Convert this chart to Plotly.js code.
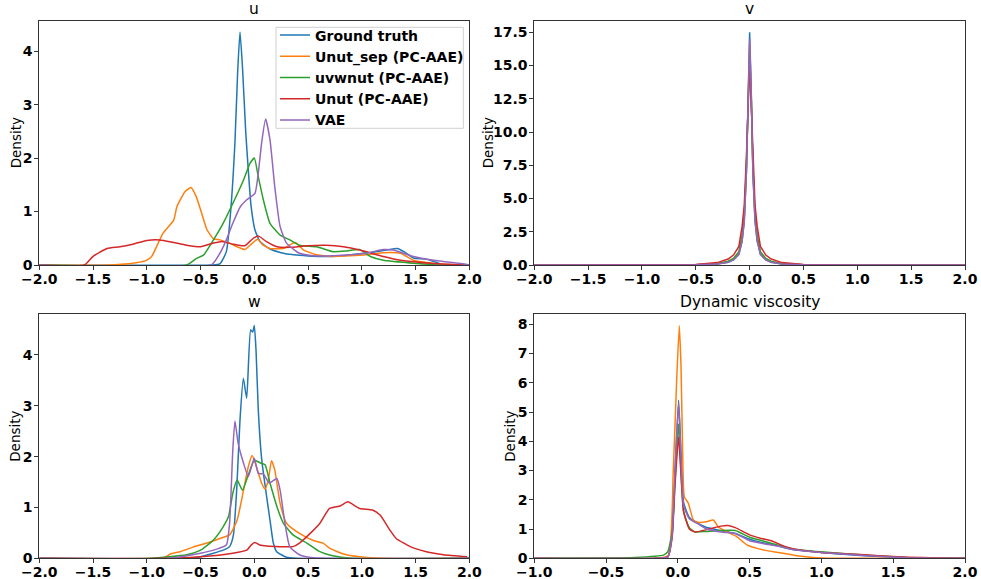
<!DOCTYPE html>
<html><head><meta charset="utf-8">
<script src="https://cdn.plot.ly/plotly-3.0.1.min.js"></script>
<style>body{margin:0;padding:0;background:#fff}#chart{width:981px;height:579px}</style>
</head><body><div id="chart"></div>
<script>
const seriesNames = ["Ground truth", "Unut_sep (PC-AAE)", "uvwnut (PC-AAE)", "Unut (PC-AAE)", "VAE"];
const colors = ["#1f77b4", "#ff7f0e", "#2ca02c", "#d62728", "#9467bd"];
const panelTitles = ["u", "v", "w", "Dynamic viscosity"];

// ---- u ----
const u_gt_x = [-2, -0.4, -0.32, -0.26, -0.22, -0.18, -0.155, -0.133, -0.11, -0.08, -0.056, -0.03, 0.007, 0.053, 0.1, 0.146, 0.25, 0.366, 0.5, 0.67, 0.85, 0.98, 1.1, 1.2, 1.29, 1.33, 1.4, 1.48, 1.6, 1.69, 1.76, 2];
const u_gt_y = [0, 0, 0.02, 0.25, 1.0, 2.3, 3.6, 4.36, 3.7, 2.5, 1.78, 1.1, 0.65, 0.44, 0.36, 0.3, 0.23, 0.19, 0.17, 0.16, 0.18, 0.21, 0.24, 0.27, 0.3, 0.31, 0.24, 0.13, 0.11, 0.05, 0, 0];
const u_us_x = [-2, -1.34, -1.1, -1.0, -0.955, -0.91, -0.85, -0.75, -0.72, -0.645, -0.59, -0.54, -0.49, -0.44, -0.38, -0.32, -0.23, -0.16, -0.087, -0.04, 0.03, 0.084, 0.146, 0.27, 0.38, 0.46, 0.58, 0.73, 1.04, 1.2, 1.36, 1.48, 1.67, 1.91, 2];
const u_us_y = [0, 0, 0.04, 0.09, 0.16, 0.34, 0.59, 0.84, 1.09, 1.37, 1.45, 1.28, 0.97, 0.66, 0.49, 0.47, 0.41, 0.34, 0.29, 0.37, 0.48, 0.37, 0.31, 0.31, 0.42, 0.28, 0.19, 0.16, 0.19, 0.23, 0.22, 0.09, 0.03, 0, 0];
const u_uv_x = [-2, -0.63, -0.54, -0.47, -0.38, -0.29, -0.2, -0.1, -0.04, 0, 0.037, 0.084, 0.146, 0.24, 0.33, 0.42, 0.58, 0.73, 0.85, 0.98, 1.08, 1.2, 1.51, 1.73, 2];
const u_uv_y = [0, 0, 0.12, 0.19, 0.47, 0.78, 1.15, 1.59, 1.9, 2.0, 1.65, 1.22, 0.78, 0.56, 0.47, 0.37, 0.34, 0.25, 0.26, 0.29, 0.16, 0.09, 0.03, 0, 0];
const u_un_x = [-2, -1.58, -1.5, -1.37, -1.25, -1.13, -1.0, -0.88, -0.75, -0.63, -0.5, -0.38, -0.3, -0.2, -0.087, -0.01, 0.04, 0.11, 0.21, 0.33, 0.49, 0.67, 0.83, 0.98, 1.2, 1.36, 1.67, 1.98];
const u_un_y = [0, 0, 0.16, 0.31, 0.34, 0.39, 0.46, 0.47, 0.42, 0.37, 0.34, 0.41, 0.44, 0.39, 0.36, 0.5, 0.54, 0.44, 0.34, 0.33, 0.36, 0.37, 0.34, 0.28, 0.16, 0.09, 0.03, 0];
const u_va_x = [-2, -0.4, -0.32, -0.26, -0.2, -0.13, -0.07, 0.006, 0.037, 0.068, 0.105, 0.146, 0.19, 0.24, 0.3, 0.42, 0.58, 0.89, 1.04, 1.2, 1.29, 1.48, 1.67, 1.98, 2];
const u_va_y = [0, 0, 0.22, 0.47, 0.78, 1.09, 1.22, 1.34, 1.72, 2.28, 2.73, 2.34, 1.47, 0.72, 0.41, 0.22, 0.17, 0.19, 0.22, 0.29, 0.28, 0.16, 0.09, 0.01, 0];

// ---- v ----
const v_x = [-2, -1, -0.5, -0.3, -0.2, -0.15, -0.1, -0.07, -0.05, -0.03, -0.015, 0, 0.015, 0.03, 0.05, 0.07, 0.1, 0.15, 0.2, 0.3, 0.5, 1, 2];
const v_gt_y = [0, 0, 0.01, 0.07, 0.2, 0.38, 0.8, 1.8, 3.3, 7.0, 13.0, 17.5, 13.0, 7.0, 3.3, 1.8, 0.8, 0.38, 0.2, 0.07, 0.01, 0, 0];
const v_us_y = [0, 0, 0.01, 0.09, 0.24, 0.45, 0.9, 2.0, 3.6, 7.3, 12.6, 16.6, 12.6, 7.3, 3.6, 2.0, 0.9, 0.45, 0.24, 0.09, 0.01, 0, 0];
const v_uv_y = [0, 0, 0.02, 0.1, 0.28, 0.5, 1.0, 2.2, 3.8, 7.5, 12.5, 16.0, 12.5, 7.5, 3.8, 2.2, 1.0, 0.5, 0.28, 0.1, 0.02, 0, 0];
const v_un_y = [0, 0, 0.03, 0.18, 0.45, 0.75, 1.4, 2.9, 4.5, 8.2, 12.0, 15.2, 12.0, 8.2, 4.5, 2.9, 1.4, 0.75, 0.45, 0.18, 0.03, 0, 0];
const v_va_y = [0, 0, 0.01, 0.07, 0.2, 0.38, 0.8, 1.8, 3.3, 7.0, 12.8, 17.0, 12.8, 7.0, 3.3, 1.8, 0.8, 0.38, 0.2, 0.07, 0.01, 0, 0];

// ---- w ----
const w_gt_x = [-2, -0.6, -0.5, -0.38, -0.29, -0.23, -0.195, -0.164, -0.133, -0.102, -0.071, -0.034, -0.015, 0, 0.016, 0.037, 0.069, 0.115, 0.146, 0.177, 0.208, 0.3, 0.4, 2];
const w_gt_y = [0, 0, 0.03, 0.1, 0.16, 0.23, 0.45, 1.34, 2.72, 3.54, 3.15, 4.49, 4.45, 4.58, 4.1, 2.92, 1.94, 1.21, 0.75, 0.3, 0.13, 0.02, 0, 0];
const w_us_x = [-2, -0.85, -0.78, -0.69, -0.57, -0.44, -0.32, -0.23, -0.16, -0.1, -0.056, -0.02, 0.02, 0.068, 0.1, 0.13, 0.16, 0.19, 0.24, 0.3, 0.42, 0.55, 0.64, 0.7, 0.83, 0.98, 1.2, 2];
const w_us_y = [0, 0, 0.085, 0.13, 0.22, 0.3, 0.39, 0.46, 0.75, 1.34, 1.8, 2.02, 1.8, 1.48, 1.36, 1.54, 1.92, 1.74, 1.08, 0.69, 0.49, 0.35, 0.3, 0.2, 0.085, 0.03, 0, 0];
const w_uv_x = [-2, -0.97, -0.63, -0.5, -0.38, -0.29, -0.24, -0.2, -0.16, -0.11, -0.056, 0, 0.053, 0.1, 0.146, 0.21, 0.27, 0.36, 0.49, 0.61, 0.73, 0.9, 2];
const w_uv_y = [0, 0, 0.07, 0.16, 0.36, 0.62, 0.82, 1.28, 1.54, 1.34, 1.64, 1.93, 1.88, 1.84, 1.48, 1.02, 0.69, 0.46, 0.3, 0.13, 0.05, 0, 0];
const w_un_x = [-2, -0.82, -0.5, -0.2, -0.07, -0.03, 0.006, 0.05, 0.115, 0.36, 0.42, 0.52, 0.61, 0.7, 0.8, 0.87, 0.98, 1.1, 1.17, 1.26, 1.32, 1.45, 1.6, 1.76, 1.98];
const w_un_y = [0, 0, 0.03, 0.1, 0.16, 0.26, 0.31, 0.26, 0.24, 0.23, 0.3, 0.49, 0.69, 0.98, 1.03, 1.11, 0.98, 0.95, 0.85, 0.56, 0.39, 0.23, 0.13, 0.07, 0.03];
const w_va_x = [-2, -0.8, -0.5, -0.35, -0.26, -0.23, -0.2, -0.18, -0.15, -0.1, -0.056, 0, 0.037, 0.084, 0.14, 0.21, 0.24, 0.285, 0.33, 0.42, 0.55, 2];
const w_va_y = [0, 0, 0.1, 0.18, 0.26, 0.69, 2.13, 2.7, 2.26, 1.87, 1.61, 1.97, 1.67, 1.66, 1.48, 1.57, 1.34, 0.69, 0.23, 0.07, 0.01, 0];

// ---- Dynamic viscosity ----
const d_gt_x = [-1, -0.15, -0.07, -0.04, -0.02, 0.005, 0.02, 0.04, 0.08, 0.12, 0.2, 0.3, 0.4, 0.5, 0.6, 0.7, 0.8, 1.0, 1.2, 1.4, 1.6, 1.8, 2];
const d_gt_y = [0, 0, 0.05, 0.8, 3.0, 5.4, 3.8, 1.9, 1.4, 1.25, 1.05, 0.95, 0.85, 0.65, 0.52, 0.42, 0.3, 0.2, 0.12, 0.06, 0.02, 0, 0];
const d_us_x = [-1, -0.15, -0.067, -0.032, -0.009, 0.01, 0.022, 0.033, 0.045, 0.073, 0.108, 0.14, 0.2, 0.247, 0.28, 0.34, 0.41, 0.48, 0.6, 0.71, 0.83, 0.94, 1.1, 2];
const d_us_y = [0, 0, 0.1, 3.0, 6.0, 7.95, 6.55, 3.7, 2.1, 1.88, 1.31, 1.23, 1.25, 1.31, 1.08, 0.91, 0.74, 0.46, 0.28, 0.19, 0.09, 0.03, 0, 0];
const d_uv_x = [-1, -0.5, -0.3, -0.1, -0.07, -0.04, -0.02, 0.005, 0.02, 0.04, 0.08, 0.12, 0.2, 0.3, 0.4, 0.5, 0.6, 0.7, 0.8, 1.0, 1.2, 1.4, 1.6, 1.8, 2];
const d_uv_y = [0, 0.01, 0.03, 0.11, 0.23, 0.9, 2.6, 4.6, 3.2, 1.6, 1.05, 0.9, 0.92, 0.95, 0.95, 0.72, 0.58, 0.45, 0.32, 0.22, 0.15, 0.08, 0.03, 0.01, 0];
const d_un_x = [-1, -0.15, -0.07, -0.04, -0.02, 0.005, 0.02, 0.04, 0.08, 0.12, 0.2, 0.3, 0.35, 0.4, 0.5, 0.58, 0.65, 0.75, 0.85, 1.0, 1.2, 1.4, 1.6, 1.8, 2];
const d_un_y = [0, 0, 0.05, 0.7, 2.5, 4.15, 3.0, 1.6, 1.0, 0.9, 0.98, 1.1, 1.12, 1.05, 0.8, 0.68, 0.6, 0.4, 0.28, 0.2, 0.15, 0.09, 0.04, 0.01, 0];
const d_va_x = [-1, -0.15, -0.07, -0.04, -0.02, 0.005, 0.02, 0.04, 0.08, 0.15, 0.2, 0.3, 0.4, 0.5, 0.6, 0.7, 0.8, 1.0, 1.2, 1.4, 1.6, 1.8, 2];
const d_va_y = [0, 0, 0.05, 0.8, 3.0, 5.3, 3.7, 1.8, 1.35, 1.15, 1.0, 0.9, 0.85, 0.6, 0.5, 0.42, 0.3, 0.2, 0.13, 0.07, 0.02, 0, 0];

const panels = [
  {xs: [u_gt_x, u_us_x, u_uv_x, u_un_x, u_va_x], ys: [u_gt_y, u_us_y, u_uv_y, u_un_y, u_va_y], shape: 'spline'},
  {xs: [v_x, v_x, v_x, v_x, v_x], ys: [v_gt_y, v_us_y, v_uv_y, v_un_y, v_va_y], shape: 'linear'},
  {xs: [w_gt_x, w_us_x, w_uv_x, w_un_x, w_va_x], ys: [w_gt_y, w_us_y, w_uv_y, w_un_y, w_va_y], shape: 'spline'},
  {xs: [d_gt_x, d_us_x, d_uv_x, d_un_x, d_va_x], ys: [d_gt_y, d_us_y, d_uv_y, d_un_y, d_va_y], shape: 'spline'}
];

const W = 981, H = 579;
const FONT = "DejaVu Sans";
const traces = [];
panels.forEach((p, pi) => {
  const ax = pi === 0 ? '' : String(pi + 1);
  for (let s = 0; s < 5; s++) {
    traces.push({
      type: 'scatter', mode: 'lines',
      x: p.xs[s], y: p.ys[s],
      name: seriesNames[s],
      xaxis: 'x' + ax, yaxis: 'y' + ax,
      line: {color: colors[s], width: 1.5, shape: p.shape, smoothing: 0.5},
      showlegend: pi === 0,
      hoverinfo: 'skip'
    });
  }
});

const xl = [39.3 / W, 469.3 / W], xr = [534.3 / W, 965 / W];
const yt = [1 - 265 / H, 1 - 20.7 / H], yb = [1 - 558.3 / H, 1 - 314.3 / H];
const TICKFONT = {family: FONT, size: 14, color: '#000', weight: 'bold'};

function xaxis(dom, anchor, range) {
  return {domain: dom, anchor: anchor, range: range, dtick: 0.5, tick0: 0, tickformat: '.1f',
    showline: true, mirror: true, linecolor: '#333', linewidth: 1, ticks: 'outside', ticklen: 4,
    tickcolor: '#333', showgrid: false, zeroline: false, automargin: false,
    ticklabelstandoff: -3, tickfont: TICKFONT};
}
function yaxis(dom, anchor, range, dtick, fmt) {
  return {domain: dom, anchor: anchor, range: range, dtick: dtick, tick0: 0, tickformat: fmt,
    showline: true, mirror: true, linecolor: '#333', linewidth: 1, ticks: 'outside', ticklen: 4,
    tickcolor: '#333', showgrid: false, zeroline: false, automargin: false,
    ticklabelstandoff: -1, tickfont: TICKFONT};
}

const annotations = [];
const titleX = [254.3, 749.6, 254.3, 749.6];
const titleTop = [yt[1], yt[1], yb[1], yb[1]];
panelTitles.forEach((t, i) => {
  annotations.push({text: t, xref: 'paper', yref: 'paper', x: titleX[i] / W, y: titleTop[i],
    xanchor: 'center', yanchor: 'bottom', yshift: 1, showarrow: false,
    font: {family: FONT, size: 15.5, color: '#000'}});
});
const densX = [15.5, 487.5, 15.5, 510.5];
const densY = [(yt[0] + yt[1]) / 2, (yt[0] + yt[1]) / 2, (yb[0] + yb[1]) / 2, (yb[0] + yb[1]) / 2];
densX.forEach((dx, i) => {
  annotations.push({text: 'Density', xref: 'paper', yref: 'paper', x: dx / W, y: densY[i],
    xanchor: 'center', yanchor: 'middle', textangle: -90, showarrow: false,
    font: {family: FONT, size: 13.5, color: '#000'}});
});

const layout = {
  width: W, height: H,
  margin: {l: 0, r: 0, t: 0, b: 0},
  paper_bgcolor: '#fff', plot_bgcolor: '#fff',
  font: {family: FONT, color: '#000'},
  xaxis: xaxis(xl, 'y', [-2, 2]),
  yaxis: yaxis(yt, 'x', [0, 4.57], 1, 'd'),
  xaxis2: xaxis(xr, 'y2', [-2, 2]),
  yaxis2: yaxis(yt, 'x2', [0, 18.37], 2.5, '.1f'),
  xaxis3: xaxis(xl, 'y3', [-2, 2]),
  yaxis3: yaxis(yb, 'x3', [0, 4.8], 1, 'd'),
  xaxis4: xaxis(xr, 'y4', [-1, 2]),
  yaxis4: yaxis(yb, 'x4', [0, 8.34], 1, 'd'),
  showlegend: true,
  legend: {x: 275 / W, y: 1 - 19.5 / H, xanchor: 'left', yanchor: 'top',
    bgcolor: 'rgba(0,0,0,0)', borderwidth: 0,
    font: {family: FONT, size: 14, color: '#000', weight: 'bold'}, itemwidth: 30, tracegroupgap: 0},
  shapes: [{type: 'rect', xref: 'paper', yref: 'paper', layer: 'below',
    x0: 276 / W, x1: 463.3 / W, y0: 1 - 128.3 / H, y1: 1 - 27.3 / H,
    line: {color: '#d0d0d0', width: 1}, fillcolor: 'rgba(255,255,255,0.8)'}],
  annotations: annotations
};

Plotly.newPlot('chart', traces, layout, {staticPlot: true, displayModeBar: false});
</script>
</body></html>
